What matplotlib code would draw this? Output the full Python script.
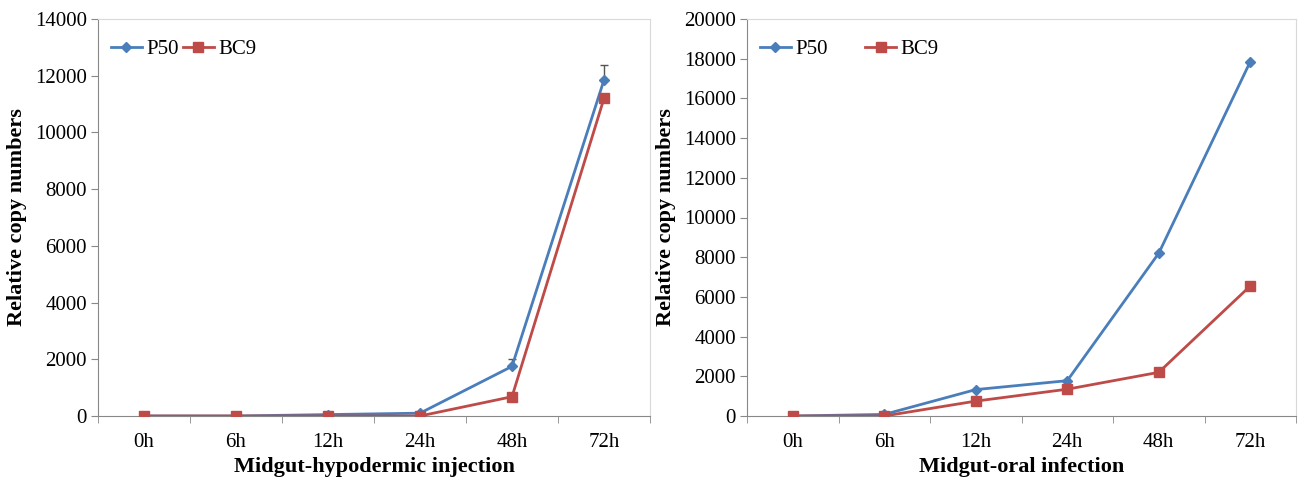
import matplotlib.pyplot as plt
import numpy as np

# time points
times = ['0h', '6h', '12h', '24h', '48h', '72h']

# Midgut-hypodermic injection
inj_p50 = [0, 0, 50, 100, 1750, 11850]
inj_p50_err = [0, 0, 0, 0, 250, 520]
inj_bc9 = [0, 0, 0, 0, 680, 11200]

# Midgut-oral infection
oral_p50 = [0, 80, 1330, 1780, 8200, 17850]
oral_bc9 = [0, 0, 750, 1350, 2200, 6550]

blue = '#4A7EBB'
red = '#BE4B48'

plt.rcParams['font.family'] = ['Liberation Serif', 'DejaVu Serif']

fig = plt.figure(figsize=[13.06, 4.84], dpi=100)
ax1 = fig.add_axes([98/1306, 1-416/484, 552/1306, 397/484])
ax2 = fig.add_axes([747/1306, 1-416/484, 549/1306, 397/484])


def style_axis(ax, ymax, xlabel):
    x = np.arange(len(times))
    ax.set_xlim(-0.5, len(times) - 0.5)
    ax.set_ylim(0, ymax)
    ax.set_yticks(np.arange(0, ymax + 1, 2000))
    ax.set_xticks(x)
    ax.set_xticklabels(times)
    ax.set_xticks(np.arange(-0.5, len(times), 1), minor=True)
    ax.tick_params(axis='x', which='major', length=0, labelsize=15, pad=12)
    ax.tick_params(axis='x', which='minor', length=5, color='#888888')
    ax.tick_params(axis='y', length=5, color='#888888', labelsize=15, pad=3)
    for s in ['left', 'bottom']:
        ax.spines[s].set_color('#888888')
    for s in ['top', 'right']:
        ax.spines[s].set_color('#d9d9d9')
    ax.set_xlabel(xlabel, fontsize=16, fontweight='bold', labelpad=4)
    ax.set_ylabel('Relative copy numbers', fontsize=16, fontweight='bold', labelpad=6)


x = np.arange(len(times))

# left panel
ax1.errorbar(x, inj_p50, yerr=[np.zeros(len(x)), inj_p50_err], fmt='none',
             ecolor='#555555', elinewidth=1, capsize=3, zorder=2)
ax1.plot(x, inj_p50, color=blue, marker='D', markersize=5, linewidth=2, label='P50', zorder=3)
ax1.plot(x, inj_bc9, color=red, marker='s', markersize=7, linewidth=2, label='BC9', zorder=4)
style_axis(ax1, 14000, 'Midgut-hypodermic injection')
ax1.legend(loc='upper left', ncol=2, frameon=False, fontsize=15,
           handlelength=1.5, handletextpad=0.2, columnspacing=0.2,
           borderaxespad=0.2, bbox_to_anchor=(0.0, 0.98))

# right panel
ax2.plot(x, oral_p50, color=blue, marker='D', markersize=5, linewidth=2, label='P50', zorder=3)
ax2.plot(x, oral_bc9, color=red, marker='s', markersize=7, linewidth=2, label='BC9', zorder=4)
style_axis(ax2, 20000, 'Midgut-oral infection')
ax2.legend(loc='upper left', ncol=2, frameon=False, fontsize=15,
           handlelength=1.5, handletextpad=0.2, columnspacing=1.8,
           borderaxespad=0.2, bbox_to_anchor=(0.0, 0.98))

plt.savefig('out.png', dpi=100)
